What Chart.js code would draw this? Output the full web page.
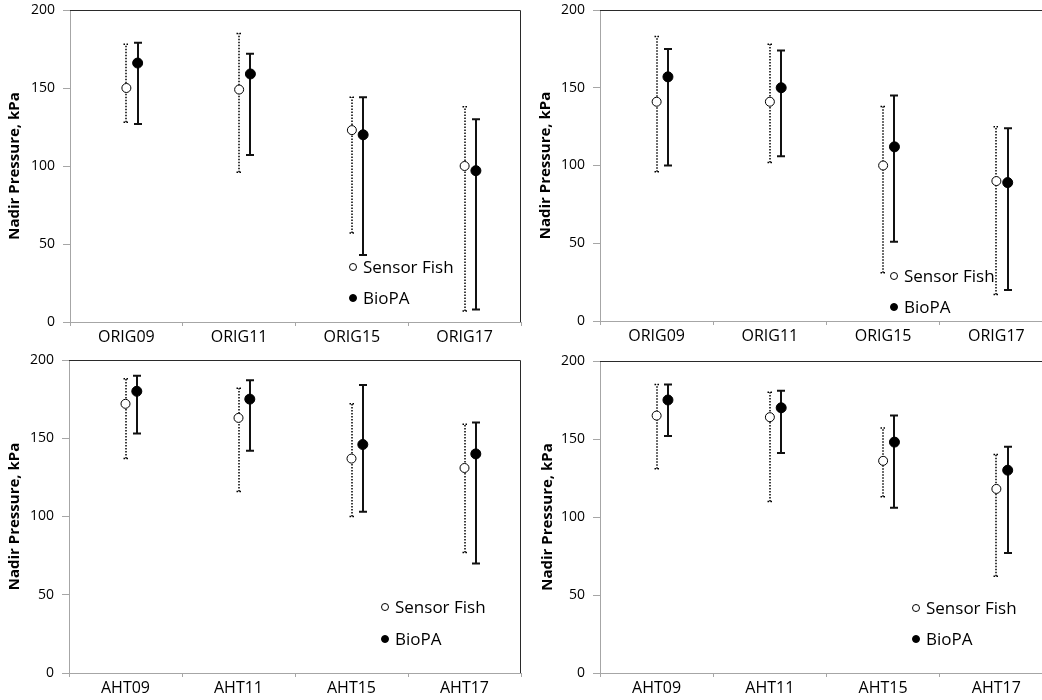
<!DOCTYPE html>
<html>
<head>
<meta charset="utf-8">
<script src="https://cdn.jsdelivr.net/npm/chart.js@4.4.1/dist/chart.umd.min.js"></script>
<style>
  html, body { margin: 0; padding: 0; background: #fff; }
  body { width: 1042px; height: 700px; overflow: hidden; position: relative; }
  canvas { position: absolute; }
</style>
</head>
<body>
<canvas id="p1" width="522" height="358" style="left:0;top:-10px"></canvas>
<canvas id="p2" width="532" height="358" style="left:521px;top:-10px"></canvas>
<canvas id="p3" width="522" height="360" style="left:0;top:340px"></canvas>
<canvas id="p4" width="532" height="359" style="left:521px;top:341px"></canvas>
<script>
// categorias
const origLabels = ['ORIG09', 'ORIG11', 'ORIG15', 'ORIG17'];
const ahtLabels = ['AHT09', 'AHT11', 'AHT15', 'AHT17'];
const yTicks = [0, 50, 100, 150, 200];

// painel 1 (ORIG, esquerda)
const sf1 = [150, 149, 123, 100];
const sf1Lo = [128, 96, 57, 7];
const sf1Hi = [178, 185, 144, 138];
const bio1 = [166, 159, 120, 97];
const bio1Lo = [127, 107, 43, 8];
const bio1Hi = [179, 172, 144, 130];

// painel 2 (ORIG, direita)
const sf2 = [141, 141, 100, 90];
const sf2Lo = [96, 102, 31, 17];
const sf2Hi = [183, 178, 138, 125];
const bio2 = [157, 150, 112, 89];
const bio2Lo = [100, 106, 51, 20];
const bio2Hi = [175, 174, 145, 124];

// painel 3 (AHT, esquerda)
const sf3 = [172, 163, 137, 131];
const sf3Lo = [137, 116, 100, 77];
const sf3Hi = [188, 182, 172, 159];
const bio3 = [180, 175, 146, 140];
const bio3Lo = [153, 142, 103, 70];
const bio3Hi = [190, 187, 184, 160];

// painel 4 (AHT, direita)
const sf4 = [165, 164, 136, 118];
const sf4Lo = [131, 110, 113, 62];
const sf4Hi = [185, 180, 157, 140];
const bio4 = [175, 170, 148, 130];
const bio4Lo = [152, 141, 106, 77];
const bio4Hi = [185, 181, 165, 145];

Chart.defaults.font.family = "'Open Sans', sans-serif";
Chart.defaults.color = '#000';

const axisGray = '#a6a6a6';

// barras de erro desenhadas com as escalas do gráfico
const errorBars = {
  id: 'errorBars',
  beforeDatasetsDraw(chart) {
    const ctx = chart.ctx;
    const xs = chart.scales.xv, ys = chart.scales.y;
    chart.data.datasets.forEach(ds => {
      ctx.save();
      ctx.strokeStyle = ds.barColor;
      ctx.lineWidth = ds.barWidth;
      ctx.setLineDash(ds.barDash);
      ds.data.forEach((p, i) => {
        const x = Math.round(xs.getPixelForValue(p.x)) + ds.barShift;
        const yl = ys.getPixelForValue(ds.lo[i]);
        const yh = ys.getPixelForValue(ds.hi[i]);
        const c = ds.capHalf;
        ctx.beginPath();
        ctx.moveTo(x, yl); ctx.lineTo(x, yh);
        ctx.moveTo(x - c, yl); ctx.lineTo(x + c, yl);
        ctx.moveTo(x - c, yh); ctx.lineTo(x + c, yh);
        ctx.stroke();
      });
      ctx.restore();
    });
  }
};

// moldura superior e direita
const frame = {
  id: 'frame',
  afterDraw(chart) {
    const { ctx, chartArea: a } = chart;
    ctx.save();
    ctx.strokeStyle = '#2a2a2a';
    ctx.lineWidth = 1;
    ctx.beginPath();
    ctx.moveTo(a.left, a.top + 0.5);
    ctx.lineTo(a.right - 0.5, a.top + 0.5);
    ctx.lineTo(a.right - 0.5, a.bottom);
    ctx.stroke();
    ctx.restore();
  }
};

// legenda dentro da área
const fishLegend = {
  id: 'fishLegend',
  afterDraw(chart, args, opts) {
    const ctx = chart.ctx;
    ctx.save();
    ctx.font = "17px 'Open Sans', sans-serif";
    ctx.textBaseline = 'middle';
    chart.data.datasets.forEach((ds, i) => {
      const x = opts.x, y = opts.y + i * opts.gap;
      ctx.beginPath();
      ctx.arc(x, y, 3.5, 0, Math.PI * 2);
      ctx.fillStyle = ds.pointBackgroundColor;
      ctx.fill();
      ctx.lineWidth = 1;
      ctx.strokeStyle = '#000';
      ctx.stroke();
      ctx.fillStyle = '#000';
      ctx.fillText(ds.label, x + 10, y + 1);
    });
    ctx.restore();
  }
};

function makePanel(id, labels, sf, sfLo, sfHi, bio, bioLo, bioHi, lay) {
  new Chart(document.getElementById(id), {
    type: 'scatter',
    data: {
      labels: labels,
      datasets: [{
        label: 'Sensor Fish',
        data: sf.map((v, i) => ({ x: i, y: v })),
        lo: sfLo, hi: sfHi,
        barColor: '#000', barWidth: 1.5, barDash: [1.5, 1.5], barShift: 0, capHalf: 2.5,
        pointRadius: 4.5,
        pointBorderWidth: 1,
        pointBackgroundColor: '#fff',
        pointBorderColor: '#000',
        xAxisID: 'xv'
      }, {
        label: 'BioPA',
        data: bio.map((v, i) => ({ x: i + 0.1, y: v })),
        lo: bioLo, hi: bioHi,
        barColor: '#111', barWidth: 2, barDash: [], barShift: 0, capHalf: 4,
        pointRadius: 5,
        pointBorderWidth: 1,
        pointBackgroundColor: '#000',
        pointBorderColor: '#000',
        xAxisID: 'xv'
      }]
    },
    options: {
      responsive: false,
      animation: false,
      events: [],
      layout: { autoPadding: false, padding: { top: 20, right: lay.right, left: 0, bottom: 0 } },
      plugins: {
        legend: { display: false },
        tooltip: { enabled: false },
        fishLegend: lay.legend
      },
      scales: {
        x: {
          type: 'category',
          position: 'bottom',
          offset: true,
          afterFit: s => { s.height = lay.xh; },
          grid: { offset: true, drawOnChartArea: false, tickLength: 4, color: axisGray },
          border: { color: axisGray },
          ticks: { font: { size: 16 }, padding: 2, color: '#000' }
        },
        xv: {
          type: 'linear',
          display: false,
          min: -0.5,
          max: 3.5
        },
        y: {
          min: 0,
          max: 200,
          afterFit: s => { s.width = lay.yw; },
          afterBuildTicks: s => { s.ticks = yTicks.map(v => ({ value: v })); },
          grid: { drawOnChartArea: false, tickLength: 7, color: axisGray },
          border: { color: axisGray },
          ticks: { font: { size: 14 }, padding: 8, color: '#000' },
          title: {
            display: true,
            text: 'Nadir Pressure, kPa',
            font: { size: 15, weight: 'bold' },
            color: '#000',
            padding: { top: lay.tp, bottom: 0 }
          }
        }
      }
    },
    plugins: [errorBars, frame, fishLegend]
  });
}

// legendas em coordenadas do canvas
makePanel('p1', origLabels, sf1, sf1Lo, sf1Hi, bio1, bio1Lo, bio1Hi,
  { right: 1, xh: 26, yw: 70, tp: 6, legend: { x: 353, y: 277, gap: 31 } });
makePanel('p2', origLabels, sf2, sf2Lo, sf2Hi, bio2, bio2Lo, bio2Hi,
  { right: 0, xh: 27, yw: 79, tp: 16, legend: { x: 373, y: 286, gap: 31 } });
makePanel('p3', ahtLabels, sf3, sf3Lo, sf3Hi, bio3, bio3Lo, bio3Hi,
  { right: 1, xh: 27, yw: 69, tp: 6, legend: { x: 385, y: 267, gap: 32 } });
makePanel('p4', ahtLabels, sf4, sf4Lo, sf4Hi, bio4, bio4Lo, bio4Hi,
  { right: 0, xh: 27, yw: 79, tp: 18, legend: { x: 395, y: 267, gap: 31 } });
</script>
</body>
</html>
